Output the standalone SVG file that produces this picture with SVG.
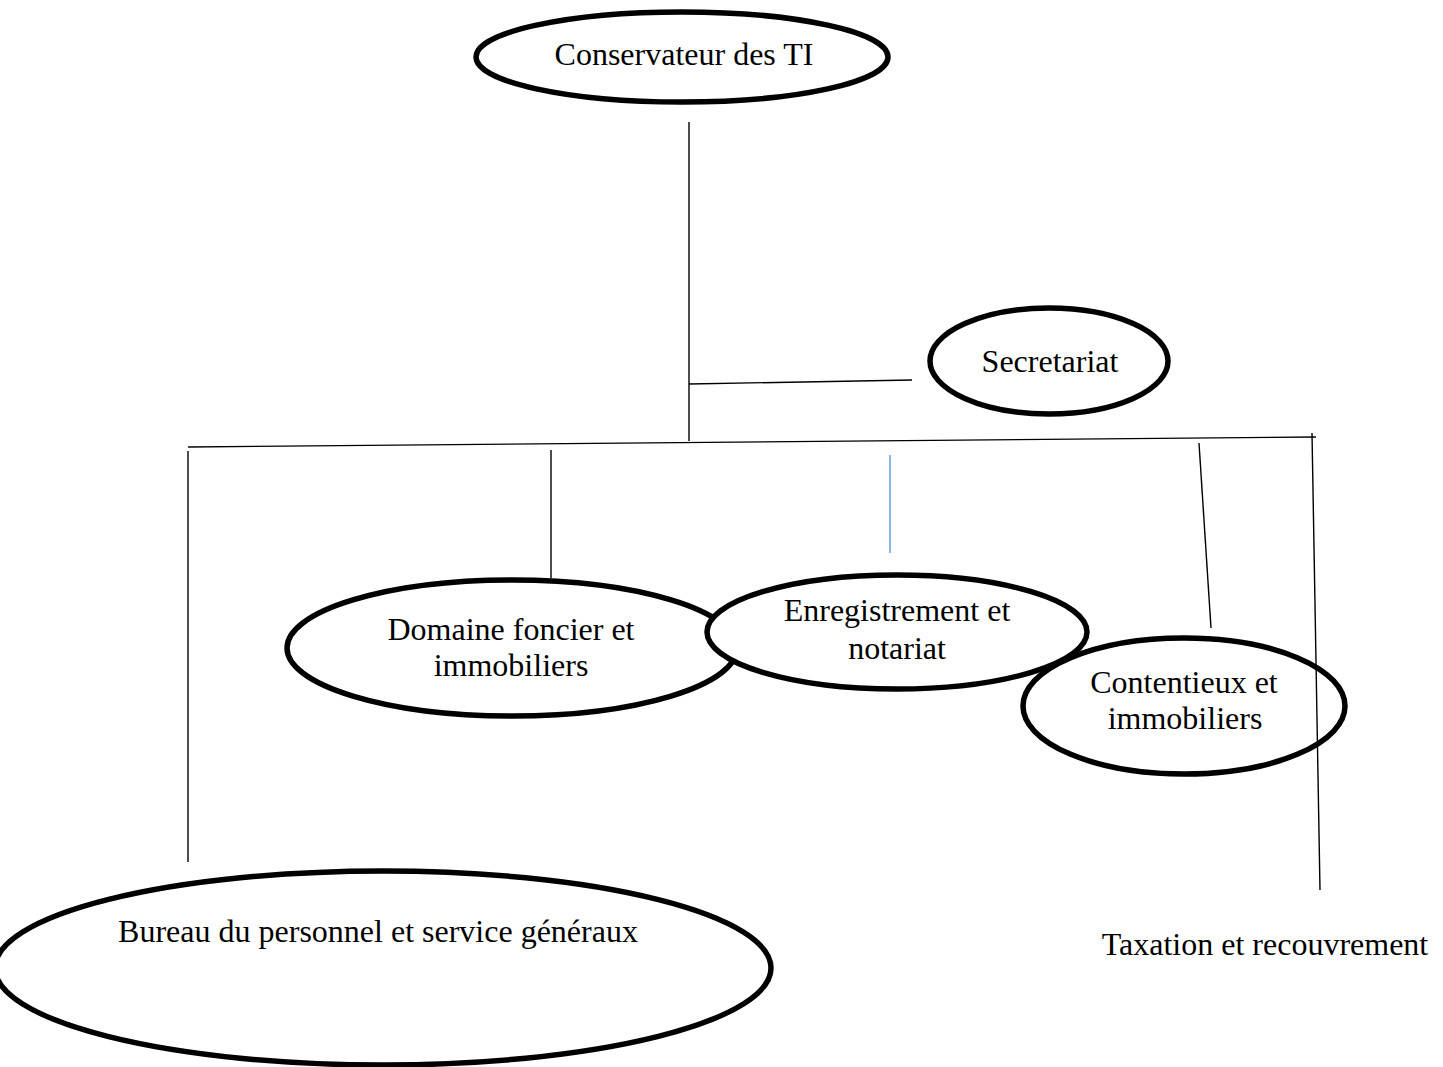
<svg xmlns="http://www.w3.org/2000/svg" width="1443" height="1067" viewBox="0 0 1443 1067">
  <style>
    .node { fill: #ffffff; stroke: #000000; stroke-width: 5.5; }
    .lbl { font-family: "Liberation Serif", "Times New Roman", serif; font-size: 32px; fill: #000000; text-anchor: middle; }
    .wire { stroke: #000000; stroke-width: 1.4; fill: none; }
    .wire-blue { stroke: #5b9bd5; stroke-width: 1.4; fill: none; }
  </style>
  <rect x="0" y="0" width="1443" height="1067" fill="#ffffff"/>

  <!-- head of the office -->
  <g id="conservateur">
    <ellipse class="node" cx="682" cy="57" rx="206" ry="45"/>
    <text class="lbl" x="684" y="65">Conservateur des TI</text>
  </g>

  <g id="secretariat">
    <ellipse class="node" cx="1049" cy="361" rx="119" ry="53"/>
    <text class="lbl" x="1050" y="372">Secretariat</text>
  </g>

  <g id="domaine">
    <ellipse class="node" cx="512" cy="648" rx="225" ry="68"/>
    <text class="lbl" x="511" y="640">Domaine foncier et</text>
    <text class="lbl" x="511" y="676">immobiliers</text>
  </g>

  <g id="enregistrement">
    <ellipse class="node" cx="897" cy="632" rx="190" ry="57"/>
    <text class="lbl" x="897" y="621">Enregistrement et</text>
    <text class="lbl" x="897" y="659">notariat</text>
  </g>

  <g id="contentieux">
    <ellipse class="node" cx="1184" cy="706" rx="161" ry="68"/>
    <text class="lbl" x="1184" y="693">Contentieux et</text>
    <text class="lbl" x="1185" y="729">immobiliers</text>
  </g>

  <g id="bureau">
    <ellipse class="node" cx="383" cy="968" rx="388" ry="97"/>
    <text class="lbl" x="378" y="942">Bureau du personnel et service généraux</text>
  </g>

  <g id="taxation">
    <text class="lbl" x="1265" y="955">Taxation et recouvrement</text>
  </g>

  <!-- hierarchy lines -->
  <g id="connectors">
    <line class="wire" x1="689" y1="122" x2="689" y2="441"/>
    <line class="wire" x1="689" y1="384" x2="912" y2="380"/>
    <line class="wire" x1="188" y1="447" x2="1316" y2="437"/>
    <line class="wire" x1="188" y1="451" x2="188" y2="862"/>
    <line class="wire" x1="551" y1="450" x2="551" y2="578"/>
    <line class="wire-blue" x1="890" y1="455" x2="890" y2="553"/>
    <line class="wire" x1="1199" y1="443" x2="1211" y2="628"/>
    <line class="wire" x1="1312" y1="433" x2="1320" y2="890"/>
  </g>
</svg>
